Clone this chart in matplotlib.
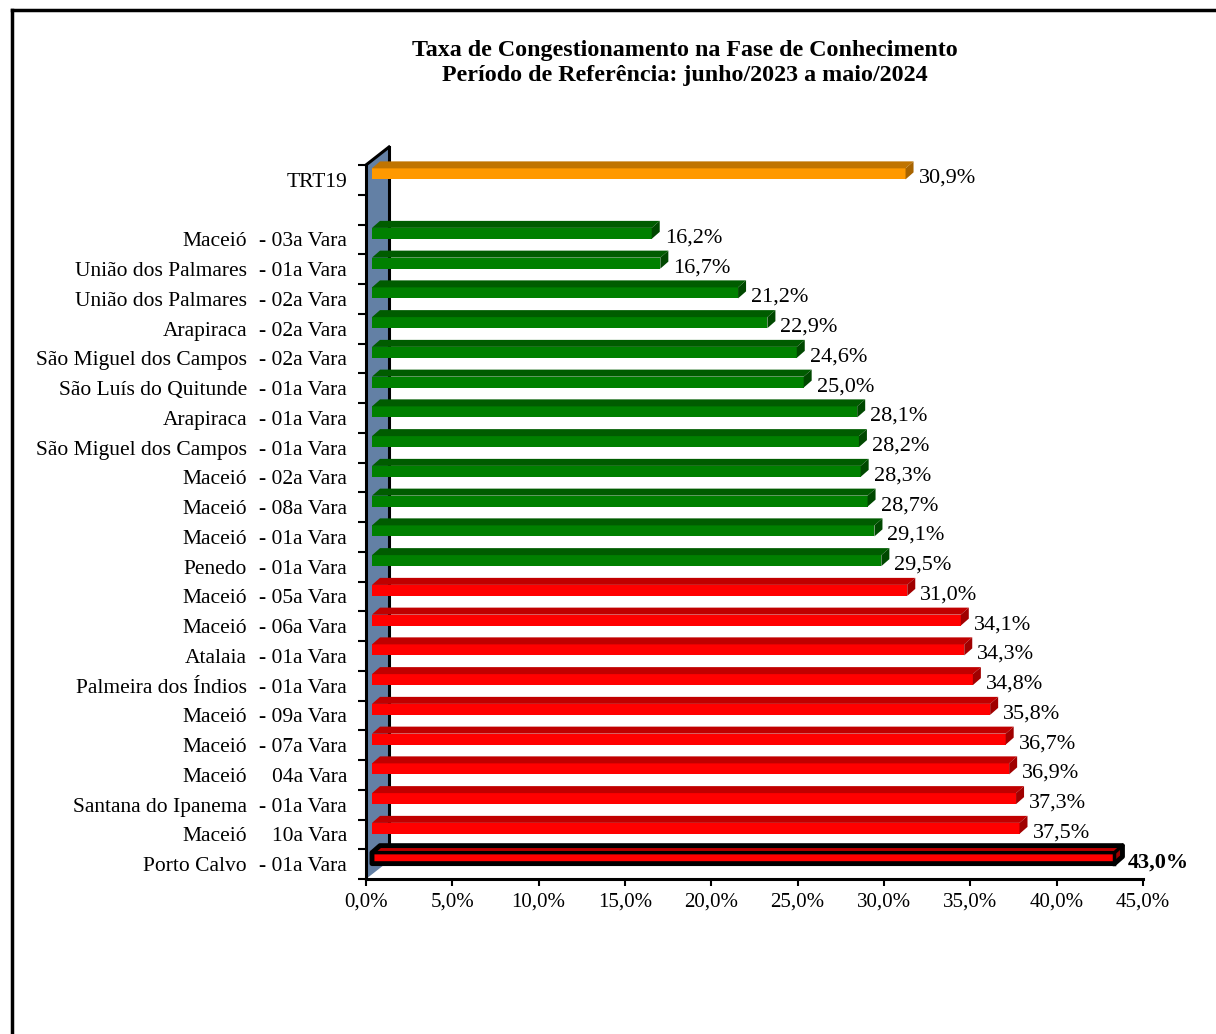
import matplotlib
matplotlib.use("Agg")
import matplotlib.pyplot as plt
from matplotlib.patches import Polygon, Rectangle
from matplotlib.lines import Line2D

plt.rcParams["font.family"] = ["Liberation Serif", "DejaVu Serif"]

# ── Data ──────────────────────────────────────────────────────────────────────
TITLE_1 = "Taxa de Congestionamento na Fase de Conhecimento"
TITLE_2 = "Período de Referência: junho/2023 a maio/2024"

# top to bottom (TRT19 first, then an empty slot)
names = ["TRT19", "",
         "Maceió", "União dos Palmares", "União dos Palmares", "Arapiraca",
         "São Miguel dos Campos", "São Luís do Quitunde", "Arapiraca",
         "São Miguel dos Campos", "Maceió", "Maceió", "Maceió", "Penedo",
         "Maceió", "Maceió", "Atalaia", "Palmeira dos Índios", "Maceió",
         "Maceió", "Maceió", "Santana do Ipanema", "Maceió", "Porto Calvo"]
suffixes = ["", "",
            "- 03a Vara", "- 01a Vara", "- 02a Vara", "- 02a Vara",
            "- 02a Vara", "- 01a Vara", "- 01a Vara", "- 01a Vara",
            "- 02a Vara", "- 08a Vara", "- 01a Vara", "- 01a Vara",
            "- 05a Vara", "- 06a Vara", "- 01a Vara", "- 01a Vara",
            "- 09a Vara", "- 07a Vara", "04a Vara", "- 01a Vara",
            "10a Vara", "- 01a Vara"]
values = [30.9, None,
          16.2, 16.7, 21.2, 22.9, 24.6, 25.0, 28.1, 28.2, 28.3, 28.7, 29.1, 29.5,
          31.0, 34.1, 34.3, 34.8, 35.8, 36.7, 36.9, 37.3, 37.5, 43.0]
groups = ["tribunal", None] + ["below"] * 12 + ["above"] * 9 + ["worst"]
x_ticks = [0, 5, 10, 15, 20, 25, 30, 35, 40, 45]

# ── Styles ────────────────────────────────────────────────────────────────────
face_cols = {  # front, top, side
    "tribunal": ("#FF9900", "#C07400", "#A86400"),
    "below":    ("#008000", "#005C00", "#004800"),
    "above":    ("#FF0000", "#C00000", "#A00000"),
    "worst":    ("#FF0000", "#C00000", "#A00000"),
}
WALL = "#6380A5"
FS_LAB = 15.5
FS_VAL = 16
FS_TICK = 15

W, H = 1216, 1034
fig = plt.figure(figsize=(W / 100, H / 100), dpi=100)
ax_l, ax_r, ax_t, ax_b = 366, 1143, 165, 879
ax = fig.add_axes([ax_l / W, 1 - ax_b / H, (ax_r - ax_l) / W, (ax_b - ax_t) / H])

n = len(values)
ax.set_xlim(0, 45)
ax.set_ylim(-0.5, n - 0.5)
px_x = (ax_r - ax_l) / 45.0
px_y = (ax_b - ax_t) / n


def dx(p):
    return p / px_x


def dy(p):
    return p / px_y


# back wall (left side of the 3D box)
wx, wy = dx(23), dy(18)
ax.add_patch(Polygon([(0, -0.5), (0, n - 0.5), (wx, n - 0.5 + wy), (wx, -0.5 + wy)],
                     closed=True, fc=WALL, ec="none", clip_on=False, zorder=1))
ax.add_line(Line2D([0, 0], [-0.5, n - 0.5], color="black", lw=2.2, clip_on=False, zorder=2))
ax.add_line(Line2D([wx, wx], [-0.5 + wy, n - 0.5 + wy], color="black", lw=2.2,
                   clip_on=False, zorder=2))
ax.add_line(Line2D([0, wx], [n - 0.5, n - 0.5 + wy], color="black", lw=2.2,
                   clip_on=False, zorder=2))
ax.add_line(Line2D([0, 45], [-0.5, -0.5], color="black", lw=2.2, clip_on=False, zorder=6))

# bars
ox, oy = dx(6), dy(6)
bx, by = dx(8), dy(7)
hh = dy(5.5)
for i, (v, g) in enumerate(zip(values, groups)):
    if v is None:
        continue
    c = n - 1 - i
    front, top, side = face_cols[g]
    y0, y1 = c + oy - hh, c + oy + hh
    x0, x1 = ox, ox + v
    ax.add_patch(Rectangle((x0, y0), v, y1 - y0, fc=front, ec="none",
                           clip_on=False, zorder=3))
    ax.add_patch(Polygon([(x0, y1), (x1, y1), (x1 + bx, y1 + by), (x0 + bx, y1 + by)],
                         closed=True, fc=top, ec="none", clip_on=False, zorder=3))
    ax.add_patch(Polygon([(x1, y0), (x1 + bx, y0 + by), (x1 + bx, y1 + by), (x1, y1)],
                         closed=True, fc=side, ec="none", clip_on=False, zorder=3))
    if g == "worst":
        # highlighted bar: heavy black outline
        ax.add_patch(Polygon([(x0, y0), (x1, y0), (x1 + bx, y0 + by), (x1 + bx, y1 + by),
                              (x0 + bx, y1 + by), (x0, y1)],
                             closed=True, fc="none", ec="black", lw=3.5, joinstyle="round",
                             clip_on=False, zorder=4))
        ax.add_line(Line2D([x0, x1, x1 + bx], [y1, y1, y1 + by], color="black", lw=2.5,
                           clip_on=False, zorder=4))
        ax.add_line(Line2D([x1, x1], [y0, y1], color="black", lw=2.5, clip_on=False, zorder=4))
    txt = f"{v:.1f}%".replace(".", ",")
    ax.text(x1 + bx + dx(5), c + oy - dy(4.5), txt, ha="left", va="center",
            fontsize=FS_VAL, fontweight="bold" if g == "worst" else "normal",
            clip_on=False, zorder=5)

# category labels: names and "Vara" part in two right-aligned columns
for i, (nm, sf) in enumerate(zip(names, suffixes)):
    c = n - 1 - i - dy(2.5)
    if not nm:
        continue
    if sf:
        ax.text(-dx(366 - 247), c, nm, ha="right", va="center", fontsize=FS_LAB)
        ax.text(-dx(366 - 347), c, sf, ha="right", va="center", fontsize=FS_LAB)
    else:
        ax.text(-dx(366 - 347), c, nm, ha="right", va="center", fontsize=FS_LAB)

# axes cosmetics
for s in ax.spines.values():
    s.set_visible(False)
ax.set_yticks([k - 0.5 for k in range(n + 1)])
ax.set_yticklabels([])
ax.tick_params(axis="y", length=6, width=1.5, direction="out", left=True)
ax.set_xticks(x_ticks)
ax.set_xticklabels([f"{t:.1f}%".replace(".", ",") for t in x_ticks], fontsize=FS_TICK)
ax.tick_params(axis="x", length=5, width=1.5, direction="out", pad=5)

fig.text(685 / W, 1 - 50.5 / H, TITLE_1, ha="center", va="center", fontsize=17.3,
         fontweight="bold")
fig.text(685 / W, 1 - 75.5 / H, TITLE_2, ha="center", va="center", fontsize=17.3,
         fontweight="bold")

# outer frame (only top and left sides visible)
fig.add_artist(Line2D([12 / W, 12 / W], [1 - 10 / H, 0], color="black", lw=2.5,
                      transform=fig.transFigure))
fig.add_artist(Line2D([12 / W, 1], [1 - 10 / H, 1 - 10 / H], color="black", lw=2.5,
                      transform=fig.transFigure))

fig.savefig("out.png", dpi=100)
